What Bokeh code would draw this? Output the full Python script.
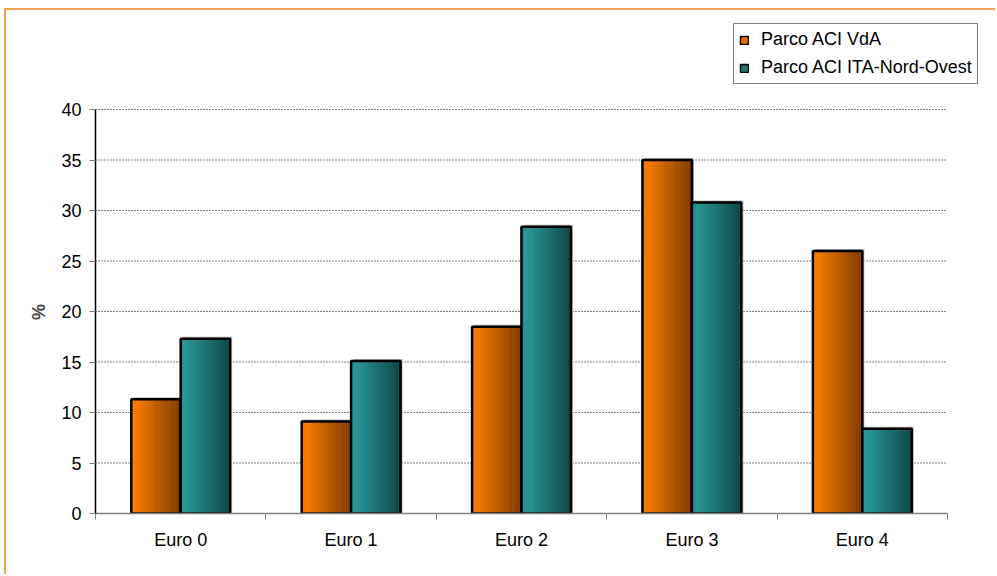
import numpy as np
from bokeh.plotting import figure
from bokeh.models import FixedTicker, Legend, LegendItem, ColumnDataSource
from bokeh.embed import file_html
from bokeh.resources import INLINE

# ---- data ----
categories = ["Euro 0", "Euro 1", "Euro 2", "Euro 3", "Euro 4"]
vda = [11.3, 9.1, 18.5, 35.0, 26.0]
nord_ovest = [17.3, 15.1, 28.4, 30.8, 8.4]
series_names = ["Parco ACI VdA", "Parco ACI ITA-Nord-Ovest"]
y_ticks = [0, 5, 10, 15, 20, 25, 30, 35, 40]
y_label = "%"

FONT = "Liberation Sans"
FS = "18px"

# ---- layout geometry (page pixels) ----
CANVAS_X, CANVAS_Y = 6, 10          # canvas origin on the page (margin + border)
CANVAS_W, CANVAS_H = 991, 566
AX_LEFT, AX_RIGHT = 95, 947         # plot-area extent of the axes
AX_TOP, AX_BOTTOM = 109, 513
FR_TOP, FR_RIGHT = 20, 990          # enlarged frame so the legend can sit above the axes

n = len(categories)
ymax = y_ticks[-1]
y_end = ymax * (AX_BOTTOM - FR_TOP) / (AX_BOTTOM - AX_TOP)
x_end = n * (FR_RIGHT - AX_LEFT) / (AX_RIGHT - AX_LEFT)

p = figure(width=CANVAS_W, height=CANVAS_H, x_range=(0, x_end), y_range=(0, y_end),
           output_backend="svg", toolbar_location=None,
           min_border_left=AX_LEFT - CANVAS_X,
           min_border_right=CANVAS_X + CANVAS_W - FR_RIGHT,
           min_border_top=FR_TOP - CANVAS_Y,
           min_border_bottom=CANVAS_Y + CANVAS_H - AX_BOTTOM)
p.margin = (8, 0, 0, 4)
p.styles = {"border-top": "2px solid #F2A24E", "border-left": "2px solid #F2A24E"}
p.background_fill_color = "white"
p.border_fill_color = "white"
p.outline_line_color = None

centers = np.arange(n) + 0.5

# axes
p.xaxis.bounds = (0, n)
p.xaxis.ticker = FixedTicker(ticks=list(centers), minor_ticks=list(np.arange(n + 1)))
p.xaxis.major_label_overrides = {float(c): cat for c, cat in zip(centers, categories)}
p.xaxis.major_tick_out = 0
p.xaxis.major_tick_in = 0
p.xaxis.minor_tick_out = 6
p.xaxis.minor_tick_in = 0
p.xaxis.minor_tick_line_color = "#808080"
p.xaxis.axis_line_color = "#808080"
p.xaxis.axis_line_width = 1.5
p.xaxis.major_label_standoff = 10
p.xaxis.major_label_text_font = FONT
p.xaxis.major_label_text_font_size = FS
p.xaxis.major_label_text_color = "black"

p.yaxis.bounds = (0, ymax)
p.yaxis.ticker = FixedTicker(ticks=y_ticks, minor_ticks=[])
p.yaxis.major_tick_out = 6
p.yaxis.major_tick_in = 0
p.yaxis.major_tick_line_color = "#808080"
p.yaxis.axis_line_color = "black"
p.yaxis.axis_line_width = 1.5
p.yaxis.major_label_standoff = 8
p.yaxis.major_label_text_font = FONT
p.yaxis.major_label_text_font_size = FS
p.yaxis.major_label_text_color = "black"
# trailing no-break spaces re-centre the rotated label on the 0-40 axis span
p.yaxis.axis_label = y_label + "\u00a0" * 18
p.yaxis.axis_label_text_font = FONT
p.yaxis.axis_label_text_font_size = FS
p.yaxis.axis_label_text_font_style = "bold"
p.yaxis.axis_label_standoff = 9

p.xgrid.grid_line_color = None
p.ygrid.grid_line_color = None
# dotted gridlines spanning only the category area
gy = y_ticks[1:]
p.segment(x0=[0] * len(gy), x1=[n] * len(gy), y0=gy, y1=gy,
          line_color="black", line_dash="1 2", line_width=1)

# bars with horizontal gradient
bar_w = 0.29
offsets = [-bar_w / 2, bar_w / 2]
series = [vda, nord_ovest]
grad = [((0xF5, 0x7B, 0x00), (0x78, 0x38, 0x00)),
        ((0x29, 0x97, 0x97), (0x0F, 0x45, 0x45))]
mid_cols = ["#E06E00", "#1F7878"]
N = 28
legend_items = []
for s, vals in enumerate(series):
    x0 = centers + offsets[s]
    src = ColumnDataSource(dict(x=x0, top=vals))
    # shadow
    p.vbar(x=x0 + 0.012, top=np.array(vals) + 0.2, width=bar_w, fill_color="#B8B8B8",
           line_color=None)
    base = p.vbar(x="x", top="top", width=bar_w, source=src, fill_color=mid_cols[s],
                  line_color="black", line_width=1.5)
    legend_items.append(LegendItem(label=series_names[s], renderers=[base]))
    c0, c1 = grad[s]
    sw = bar_w / N
    for k in range(N):
        t = (k + 0.5) / N
        f = max(0.0, (t - 0.12) / 0.88)
        col = "#%02x%02x%02x" % tuple(int(round(a + (b - a) * f)) for a, b in zip(c0, c1))
        p.vbar(x=x0 - bar_w / 2 + sw * (k + 0.5), top=vals, width=sw * 1.05,
               fill_color=col, line_color=None)
    p.vbar(x="x", top="top", width=bar_w, source=src, fill_alpha=0,
           line_color="black", line_width=2.5)

legend = Legend(items=legend_items, location=(733 - AX_LEFT, AX_BOTTOM - 84))
legend.label_text_font = FONT
legend.label_text_font_size = FS
legend.label_text_color = "black"
legend.border_line_color = "black"
legend.border_line_width = 1.5
legend.background_fill_color = "white"
legend.padding = 5
legend.spacing = 7
legend.glyph_width = 10
legend.glyph_height = 10
legend.label_standoff = 12
legend.label_height = 18
legend.margin = 0
p.add_layout(legend, "center")

open("out.html", "w").write(file_html(p, INLINE))
